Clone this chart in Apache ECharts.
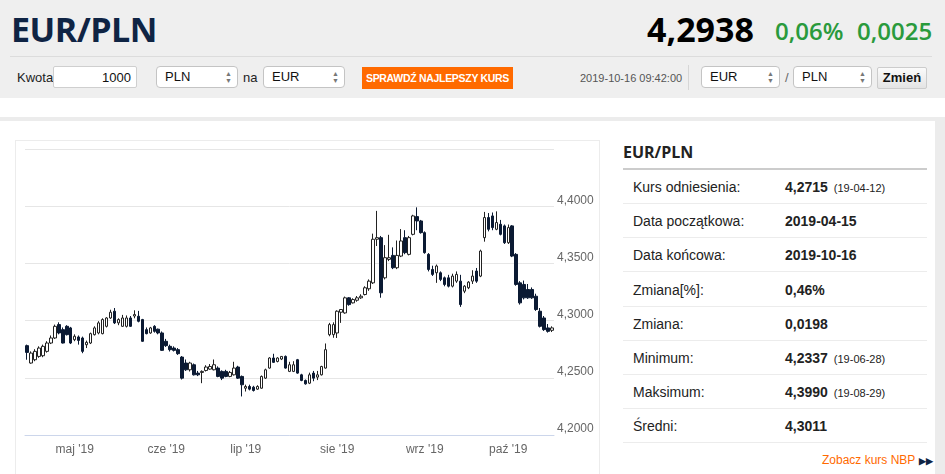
<!DOCTYPE html>
<html>
<head>
<meta charset="utf-8">
<script src="https://cdn.jsdelivr.net/npm/echarts@6/dist/echarts.min.js"></script>
<style>
    html, body { margin: 0; padding: 0; width: 945px; height: 474px; overflow: hidden; background: #fff; font-family: "Liberation Sans", Arial, sans-serif; }
    .head { position: absolute; left: 0; top: 0; width: 945px; height: 98px; background: #efefef; }
    .title { position: absolute; left: 11px; top: 6px; font: 700 34px "Open Sans", sans-serif; color: #0f2444; letter-spacing: -0.5px; }
    .price { position: absolute; left: 647px; top: 6px; font: 700 34px "Open Sans", sans-serif; color: #000; }
    .chg { position: absolute; top: 14px; font: 600 24px "Open Sans", sans-serif; color: #2a9a3c; }
    .hline { position: absolute; left: 10px; top: 56px; width: 922px; height: 1px; background: #dcdcdc; }
    .lbl { position: absolute; top: 70px; font-size: 13px; color: #222; }
    .inp { position: absolute; top: 66px; background: #fff; border: 1px solid #cfcfcf; border-radius: 2px; font-size: 13px; line-height: 21px; color: #111; box-sizing: border-box; height: 22px; }
    .sel { position: absolute; top: 66px; height: 22px; background: #fff; border: 1px solid #c4c4c4; border-radius: 4px; font-size: 13px; line-height: 20px; color: #111; box-sizing: border-box; padding-left: 8px; }
    .sel .arr { position: absolute; right: 5px; top: 3px; font-size: 7px; line-height: 7px; color: #777; }
    .btn-o { position: absolute; left: 362px; top: 67px; width: 151px; height: 22px; background: #ff6a00; color: #fff; font-size: 10.5px; font-weight: 700; line-height: 22px; text-align: center; white-space: nowrap; letter-spacing: -0.3px; overflow: hidden; }
    .date { position: absolute; left: 580px; top: 72px; font-size: 11px; color: #555; }
    .vsep { position: absolute; left: 688px; top: 65px; width: 1px; height: 25px; background: #d6d6d6; }
    .btn-z { position: absolute; left: 877px; top: 67px; width: 50px; height: 22px; border: 1px solid #ccc; border-radius: 2px; box-sizing: border-box; background: linear-gradient(#fbfbfb, #e4e4e4); font-size: 13px; font-weight: 700; line-height: 20px; text-align: center; color: #111; }
    .band { position: absolute; left: 0; top: 117px; width: 945px; height: 4px; background: #ececec; }
    .rband { position: absolute; left: 935px; top: 117px; width: 10px; height: 357px; background: #ececec; }
    .panel { position: absolute; left: 15px; top: 140px; width: 585px; height: 340px; border: 1px solid #ececec; box-sizing: border-box; }
    #chart { position: absolute; left: 15px; top: 140px; width: 585px; height: 334px; }
    .tbl-h { position: absolute; left: 623px; top: 141px; font: 700 16px "Open Sans", sans-serif; color: #222; }
    .tbl-u { position: absolute; left: 623px; top: 168px; width: 304px; height: 2px; background: #ccc; }
    .row { position: absolute; left: 623px; width: 304px; height: 34px; border-bottom: 1px solid #ececec; box-sizing: border-box; font-size: 14px; color: #222; }
    .row .k { position: absolute; left: 10px; top: 9px; }
    .row .v { position: absolute; left: 162px; top: 9px; font-weight: 700; }
    .row .d { font-weight: 400; font-size: 11px; margin-left: 6px; }
    .nbp { position: absolute; left: 822px; top: 453px; font-size: 12px; color: #ff6a00; }
    .nbp b { color: #0f2444; font-size: 9px; margin-left: 4px; }
</style>
</head>
<body>
<div class="head">
    <div class="title">EUR/PLN</div>
    <div class="price">4,2938</div>
    <div class="chg" style="left:775px">0,06%</div>
    <div class="chg" style="left:857px">0,0025</div>
    <div class="hline"></div>
    <div class="lbl" style="left:17px">Kwota</div>
    <div class="inp" style="left:53px;width:84px;text-align:right;padding-right:5px">1000</div>
    <div class="sel" style="left:156px;width:82px">PLN<span class="arr">▲<br>▼</span></div>
    <div class="lbl" style="left:243px">na</div>
    <div class="sel" style="left:263px;width:82px">EUR<span class="arr">▲<br>▼</span></div>
    <div class="btn-o">SPRAWDŹ NAJLEPSZY KURS</div>
    <div class="date">2019-10-16 09:42:00</div>
    <div class="vsep"></div>
    <div class="sel" style="left:701px;width:79px">EUR<span class="arr">▲<br>▼</span></div>
    <div class="lbl" style="left:785px;color:#666">/</div>
    <div class="sel" style="left:793px;width:79px">PLN<span class="arr">▲<br>▼</span></div>
    <div class="btn-z">Zmień</div>
</div>
<div class="band"></div>
<div class="rband"></div>
<div class="panel"></div>
<div id="chart"></div>

<div class="tbl-h">EUR/PLN</div>
<div class="tbl-u"></div>
<div id="tbl"></div>
<div class="nbp">Zobacz kurs NBP<b>▶▶</b></div>

<script>
// okres notowan
var startDate = '2019-04-15';
var endDate = '2019-10-16';
var monthNames = ['sty', 'lut', 'mar', 'kwi', 'maj', 'cze', 'lip', 'sie', 'wrz', 'paź', 'lis', 'gru'];
var yTicks = [4.20, 4.25, 4.30, 4.35, 4.40, 4.45];

// kursy dzienne
var openV = [
    4.2781, 4.2629, 4.2658, 4.2687, 4.2693, 4.2731, 4.2804, 4.2848, 4.2965, 4.2921,
    4.2950, 4.2936, 4.2833, 4.2857, 4.2848, 4.2789, 4.2804, 4.2877, 4.2892, 4.2886,
    4.2950, 4.3023, 4.3082, 4.2980, 4.2950, 4.2950, 4.3023, 4.3040, 4.3038, 4.3009,
    4.2921, 4.2892, 4.2950, 4.2925, 4.2892, 4.2819, 4.2775, 4.2760, 4.2746, 4.2681,
    4.2629, 4.2570, 4.2614, 4.2541, 4.2547, 4.2564, 4.2576, 4.2570, 4.2585, 4.2556,
    4.2556, 4.2512, 4.2526, 4.2594, 4.2512, 4.2409, 4.2424, 4.2418, 4.2401, 4.2409,
    4.2497, 4.2585, 4.2673, 4.2643, 4.2664, 4.2687, 4.2556, 4.2556, 4.2658, 4.2526,
    4.2477, 4.2453, 4.2541, 4.2506, 4.2526, 4.2585, 4.2877, 4.2877, 4.2892, 4.3073,
    4.3067, 4.3199, 4.3155, 4.3178, 4.3199, 4.3228, 4.3278, 4.3330, 4.3711, 4.3725,
    4.3374, 4.3535, 4.3570, 4.3462, 4.3564, 4.3725, 4.3579, 4.3754, 4.3909, 4.3871,
    4.3769, 4.3579, 4.3447, 4.3418, 4.3418, 4.3374, 4.3374, 4.3301, 4.3345, 4.3345,
    4.3257, 4.3287, 4.3345, 4.3433, 4.3389, 4.3725, 4.3901, 4.3915, 4.3798, 4.3842,
    4.3828, 4.3681, 4.3828, 4.3579, 4.3330, 4.3316, 4.3272, 4.3272, 4.3213, 4.3082,
    4.3023, 4.2936, 4.2915
];
var closeV = [
    4.2722, 4.2716, 4.2731, 4.2760, 4.2775, 4.2804, 4.2848, 4.2950, 4.2892, 4.2804,
    4.2877, 4.2804, 4.2863, 4.2827, 4.2731, 4.2810, 4.2886, 4.2936, 4.2980, 4.3009,
    4.3023, 4.3073, 4.2980, 4.3009, 4.3023, 4.3023, 4.2950, 4.3053, 4.2994, 4.2819,
    4.2886, 4.2936, 4.2906, 4.2892, 4.2740, 4.2781, 4.2746, 4.2740, 4.2711, 4.2497,
    4.2570, 4.2629, 4.2526, 4.2526, 4.2556, 4.2594, 4.2599, 4.2614, 4.2512, 4.2497,
    4.2512, 4.2547, 4.2585, 4.2497, 4.2439, 4.2424, 4.2401, 4.2389, 4.2424, 4.2512,
    4.2570, 4.2673, 4.2635, 4.2673, 4.2687, 4.2585, 4.2614, 4.2614, 4.2541, 4.2477,
    4.2447, 4.2526, 4.2497, 4.2526, 4.2599, 4.2746, 4.2965, 4.2965, 4.3082, 4.3097,
    4.3199, 4.3140, 4.3184, 4.3199, 4.3213, 4.3287, 4.3345, 4.3711, 4.3725, 4.3243,
    4.3550, 4.3550, 4.3462, 4.3570, 4.3696, 4.3594, 4.3725, 4.3915, 4.3871, 4.3769,
    4.3594, 4.3447, 4.3404, 4.3477, 4.3360, 4.3316, 4.3301, 4.3389, 4.3404, 4.3140,
    4.3301, 4.3336, 4.3389, 4.3345, 4.3608, 4.3901, 4.3798, 4.3813, 4.3857, 4.3754,
    4.3681, 4.3813, 4.3564, 4.3316, 4.3155, 4.3199, 4.3199, 4.3199, 4.3097, 4.2950,
    4.2921, 4.2906, 4.2936
];
var lowV = [
    4.2658, 4.2623, 4.2645, 4.2675, 4.2680, 4.2720, 4.2795, 4.2840, 4.2880, 4.2800,
    4.2870, 4.2795, 4.2820, 4.2790, 4.2715, 4.2760, 4.2795, 4.2870, 4.2880, 4.2880,
    4.2940, 4.3015, 4.2970, 4.2960, 4.2945, 4.2940, 4.2945, 4.3020, 4.2985, 4.2815,
    4.2880, 4.2885, 4.2895, 4.2880, 4.2735, 4.2770, 4.2730, 4.2730, 4.2700, 4.2485,
    4.2560, 4.2555, 4.2520, 4.2515, 4.2453, 4.2555, 4.2570, 4.2565, 4.2505, 4.2480,
    4.2505, 4.2505, 4.2520, 4.2490, 4.2337, 4.2380, 4.2390, 4.2380, 4.2395, 4.2405,
    4.2490, 4.2580, 4.2630, 4.2635, 4.2655, 4.2580, 4.2550, 4.2550, 4.2535, 4.2470,
    4.2440, 4.2445, 4.2470, 4.2480, 4.2520, 4.2580, 4.2863, 4.2850, 4.2848, 4.2980,
    4.3060, 4.3130, 4.3150, 4.3165, 4.3190, 4.3220, 4.3260, 4.3320, 4.3652, 4.3200,
    4.3360, 4.3520, 4.3450, 4.3450, 4.3555, 4.3580, 4.3570, 4.3745, 4.3790, 4.3760,
    4.3585, 4.3430, 4.3390, 4.3330, 4.3345, 4.3300, 4.3290, 4.3290, 4.3330, 4.3120,
    4.3240, 4.3275, 4.3320, 4.3330, 4.3380, 4.3690, 4.3780, 4.3790, 4.3790, 4.3745,
    4.3670, 4.3670, 4.3555, 4.3305, 4.3140, 4.3185, 4.3190, 4.3190, 4.3085, 4.2940,
    4.2910, 4.2895, 4.2900
];
var highV = [
    4.2790, 4.2731, 4.2750, 4.2775, 4.2790, 4.2820, 4.2870, 4.2965, 4.2985, 4.2940,
    4.2960, 4.2945, 4.2880, 4.2870, 4.2860, 4.2825, 4.2895, 4.2950, 4.2995, 4.3020,
    4.3030, 4.3095, 4.3110, 4.3020, 4.3050, 4.3045, 4.3040, 4.3090, 4.3085, 4.3015,
    4.2940, 4.2945, 4.2960, 4.2930, 4.2905, 4.2840, 4.2790, 4.2775, 4.2760, 4.2690,
    4.2660, 4.2640, 4.2625, 4.2560, 4.2565, 4.2610, 4.2620, 4.2660, 4.2600, 4.2565,
    4.2570, 4.2560, 4.2640, 4.2605, 4.2520, 4.2440, 4.2440, 4.2430, 4.2435, 4.2520,
    4.2580, 4.2680, 4.2710, 4.2680, 4.2690, 4.2695, 4.2640, 4.2645, 4.2665, 4.2535,
    4.2485, 4.2545, 4.2560, 4.2560, 4.2605, 4.2800, 4.2980, 4.2985, 4.3090, 4.3100,
    4.3210, 4.3205, 4.3195, 4.3215, 4.3230, 4.3300, 4.3360, 4.3760, 4.3959, 4.3740,
    4.3660, 4.3750, 4.3640, 4.3700, 4.3800, 4.3790, 4.3740, 4.3925, 4.3990, 4.3880,
    4.3780, 4.3590, 4.3480, 4.3490, 4.3430, 4.3385, 4.3400, 4.3410, 4.3430, 4.3400,
    4.3310, 4.3345, 4.3440, 4.3460, 4.3620, 4.3950, 4.3940, 4.3945, 4.3955, 4.3880,
    4.3840, 4.3840, 4.3835, 4.3590, 4.3345, 4.3350, 4.3320, 4.3290, 4.3235, 4.3110,
    4.3040, 4.2970, 4.2950
];

// tabela po prawej
var statLabels = ['Kurs odniesienia:', 'Data początkowa:', 'Data końcowa:', 'Zmiana[%]:', 'Zmiana:', 'Minimum:', 'Maksimum:', 'Średni:'];
var statValues = ['4,2715', '2019-04-15', '2019-10-16', '0,46%', '0,0198', '4,2337', '4,3990', '4,3011'];
var statDates = ['(19-04-12)', '', '', '', '', '(19-06-28)', '(19-08-29)', ''];

function tradingDays(from, to) {
    var out = [];
    var d = new Date(from + 'T00:00:00Z');
    var end = new Date(to + 'T00:00:00Z');
    while (d <= end) {
        var wd = d.getUTCDay();
        if (wd !== 0 && wd !== 6) {
            out.push(d.toISOString().slice(0, 10));
        }
        d.setUTCDate(d.getUTCDate() + 1);
    }
    return out;
}

var dates = tradingDays(startDate, endDate);

function isMonthStart(index) {
    if (index === 0) return false;
    return dates[index].slice(5, 7) !== dates[index - 1].slice(5, 7);
}

function buildTable() {
    var html = '';
    for (var i = 0; i < statLabels.length; i++) {
        var top = 170 + Math.round(i * 34.2);
        html += '<div class="row" style="top:' + top + 'px">' +
            '<span class="k">' + statLabels[i] + '</span>' +
            '<span class="v">' + statValues[i] +
            (statDates[i] ? '<span class="d">' + statDates[i] + '</span>' : '') +
            '</span></div>';
    }
    document.getElementById('tbl').innerHTML = html;
}
buildTable();

var candles = [];
for (var i = 0; i < dates.length; i++) {
    candles.push([openV[i], closeV[i], lowV[i], highV[i]]);
}

var chart = echarts.init(document.getElementById('chart'));
chart.setOption({
    animation: false,
    grid: { left: 10, right: 46, top: 9, bottom: 39 },
    xAxis: {
        type: 'category',
        data: dates,
        boundaryGap: true,
        axisLine: { lineStyle: { color: '#ccd6eb', width: 1 } },
        axisTick: {
            alignWithLabel: true,
            length: 8,
            interval: function (index) { return isMonthStart(index); },
            lineStyle: { color: '#ccd6eb' }
        },
        axisLabel: {
            interval: function (index) { return isMonthStart(index); },
            formatter: function (value) {
                var m = parseInt(value.slice(5, 7), 10) - 1;
                return monthNames[m] + " '" + value.slice(2, 4);
            },
            color: '#666',
            fontSize: 12,
            fontFamily: 'Liberation Sans',
            margin: 9
        },
        splitLine: { show: false }
    },
    yAxis: {
        type: 'value',
        position: 'right',
        min: yTicks[0],
        max: yTicks[yTicks.length - 1],
        interval: 0.05,
        axisLine: { show: false },
        axisTick: { show: false },
        splitLine: { lineStyle: { color: '#e6e6e6', width: 1 } },
        axisLabel: {
            showMaxLabel: false,
            formatter: function (v) {
                if (v > 4.449) return '';
                return v.toFixed(4).replace('.', ',');
            },
            verticalAlign: 'bottom',
            color: '#666',
            fontSize: 12,
            fontFamily: 'Liberation Sans',
            margin: 3
        }
    },
    series: [{
        type: 'candlestick',
        data: candles,
        barWidth: 3,
        itemStyle: {
            color: '#ffffff',
            color0: '#0b1a33',
            borderColor: '#222222',
            borderColor0: '#0b1a33',
            borderWidth: 1
        }
    }]
});
</script>
</body>
</html>
